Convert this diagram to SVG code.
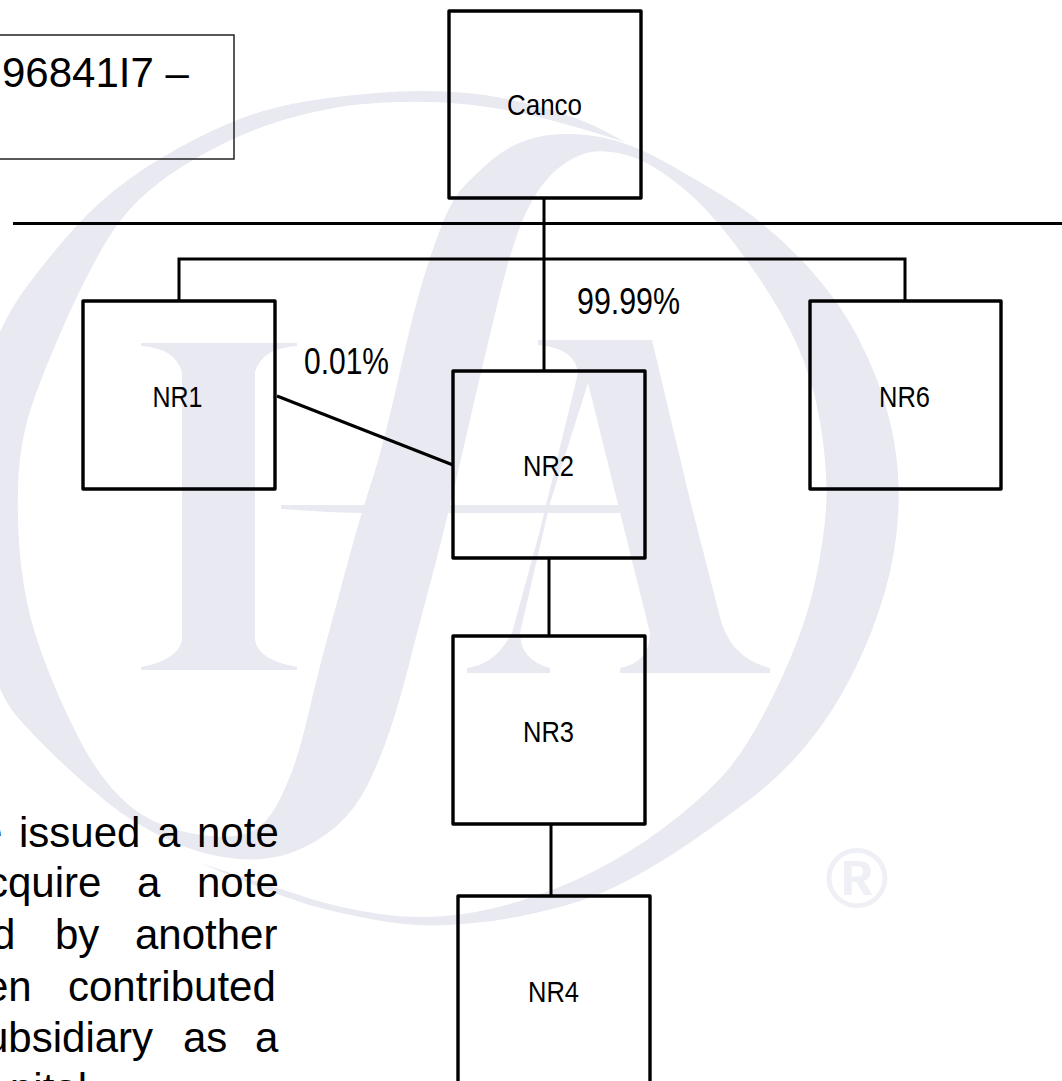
<svg xmlns="http://www.w3.org/2000/svg" width="1062" height="1081" viewBox="0 0 1062 1081">
<style>
.box{fill:none;stroke:#000;stroke-width:3.4;stroke-linejoin:round}
.link{fill:none;stroke:#000;stroke-width:3}
.lbl{font-family:"Liberation Sans",Arial,sans-serif;font-size:30px;fill:#000;text-anchor:middle}
.pct{font-size:36px;text-anchor:start}
.body{font-family:"Liberation Sans",Arial,sans-serif;font-size:42px;fill:#000}
.wm{fill:#e8e9f1}
</style>
<rect width="1062" height="1081" fill="#fff"/>
<g id="watermark">
<path class="wm" d="M625 142L602.5 130Q580 118 540 107Q500 96 466.5 93Q433 90 400 91.5Q367 93 328.5 98Q290 103 261.5 111.5Q233 120 196.5 138.5Q160 157 130 178.5Q100 200 75 227.5Q50 255 25 289Q0 323 -15 371.5Q-30 420 -30 510Q-30 600 -15 648.5Q0 697 16.5 716Q33 735 58 759Q83 783 108 803Q133 823 166.5 839Q200 855 233.5 858.5Q267 862 292 852.5Q317 843 336 826.5Q355 810 367.5 785Q380 760 390 730Q400 700 408.5 666.5Q417 633 432 576.5Q447 520 465 441.5Q483 363 498 301.5Q513 240 526.5 211.5Q540 183 558.5 168Q577 153 595 151.5Q613 150 634 157.5Q655 165 684 189Q713 213 746.5 260Q780 307 796.5 343.5Q813 380 820 421.5Q827 463 826.5 496.5Q826 530 815.5 580Q805 630 776 690Q747 750 722 776.5Q697 803 663.5 828Q630 853 593.5 871.5Q557 890 518.5 901.5Q480 913 446.5 916Q413 919 376.5 913.5Q340 908 311.5 899Q283 890 241.5 876.5L200 863L241.5 880Q283 897 308 904.5Q333 912 373 919.5Q413 927 446.5 925Q480 923 505 919Q530 915 563.5 906Q597 897 628.5 880Q660 863 686.5 845Q713 827 746.5 802Q780 777 806.5 745Q833 713 853 673Q873 633 885 591.5Q897 550 898.5 506.5Q900 463 890 421.5Q880 380 858.5 338.5Q837 297 800 258.5Q763 220 721.5 195Q680 170 658.5 158.5Q637 147 617 141Q597 135 572 134Q547 133 527 140Q507 147 493.5 158.5Q480 170 466.5 183.5Q453 197 443 222Q433 247 423 280Q413 313 398 380Q383 447 371.5 482Q360 517 346.5 567Q333 617 325 647Q317 677 308.5 713.5Q300 750 292.5 770Q285 790 276 806.5Q267 823 253.5 830.5Q240 838 215 836.5Q190 835 165 826Q140 817 120 797Q100 777 83.5 747Q67 717 50 675Q33 633 26.5 600Q20 567 18.5 533.5Q17 500 18.5 475Q20 450 26.5 423.5Q33 397 58 338.5Q83 280 108 238.5Q133 197 183 166Q233 135 283 120Q333 105 383 102.5Q433 100 473 105Q513 110 546.5 119Q580 128 602.5 135L625 142Z"/>
<path class="wm" d="M141 343H297V346Q262 348 255 372V640Q258 660 297 667V670H141V667Q178 660 182 640V372Q175 348 141 346Z"/>
<path class="wm" d="M538 340H652L690 500L720 617Q730 658 770 668V673H620V668Q650 662 650 633L617 500L588 383L550 503L520 633Q520 660 550 668V673H467V668Q495 665 512 633L540 530L578 373Q575 348 538 345Z"/>
<path class="wm" d="M281 505H620V513H360Q320 512 281 509Z"/>
<g id="registered"><text x="857" y="907" font-family="Liberation Sans,sans-serif" font-size="86" font-weight="bold" fill="#eff0f5" text-anchor="middle">®</text></g>
</g>
<g id="connectors">
<path class="link" d="M13 223.5H1062"/>
<path class="link" d="M544 198V371"/>
<path class="link" d="M179 301V259H905V301"/>
<path class="link" d="M277 396L453 465"/>
<path class="link" d="M549 558V636"/>
<path class="link" d="M551 824V896"/>
</g>
<g id="note-ref">
<rect x="-5" y="35" width="239" height="124" fill="none" stroke="#222" stroke-width="1.5"/>
<text class="body" x="2" y="87">96841I7 –</text>
</g>
<g id="canco"><rect class="box" x="449" y="11" width="192" height="187"/><text class="lbl" x="544.5" y="115" textLength="75" lengthAdjust="spacingAndGlyphs">Canco</text></g>
<g id="nr1"><rect class="box" x="83" y="301" width="192" height="188"/><text class="lbl" x="177.5" y="407" textLength="50" lengthAdjust="spacingAndGlyphs">NR1</text></g>
<g id="nr2"><rect class="box" x="453" y="371" width="192" height="187"/><text class="lbl" x="548.5" y="476" textLength="51" lengthAdjust="spacingAndGlyphs">NR2</text></g>
<g id="nr6"><rect class="box" x="810" y="301" width="191" height="188"/><text class="lbl" x="904.5" y="407" textLength="51" lengthAdjust="spacingAndGlyphs">NR6</text></g>
<g id="nr3"><rect class="box" x="453" y="636" width="192" height="188"/><text class="lbl" x="548.5" y="742" textLength="51" lengthAdjust="spacingAndGlyphs">NR3</text></g>
<g id="nr4"><rect class="box" x="458" y="896" width="192" height="188"/><text class="lbl" x="553.5" y="1002" textLength="51" lengthAdjust="spacingAndGlyphs">NR4</text></g>
<g id="labels">
<text class="lbl pct" x="304" y="374" textLength="85" lengthAdjust="spacingAndGlyphs">0.01%</text>
<text class="lbl pct" x="577" y="314" textLength="103" lengthAdjust="spacingAndGlyphs">99.99%</text>
</g>
<g id="paragraph">
<text class="body" y="847"><tspan x="-21">e</tspan><tspan x="19">issued</tspan><tspan x="157">a</tspan><tspan x="197">note</tspan></text>
<text class="body" y="897"><tspan x="-13">cquire</tspan><tspan x="137">a</tspan><tspan x="197">note</tspan></text>
<text class="body" y="949"><tspan x="-8">d</tspan><tspan x="55">by</tspan><tspan x="135">another</tspan></text>
<text class="body" y="1001"><tspan x="-15">en</tspan><tspan x="68">contributed</tspan></text>
<text class="body" y="1052"><tspan x="-15">ubsidiary</tspan><tspan x="183">as</tspan><tspan x="255">a</tspan></text>
<text class="body" x="10" y="1103">pital</text>
</g>
</svg>
